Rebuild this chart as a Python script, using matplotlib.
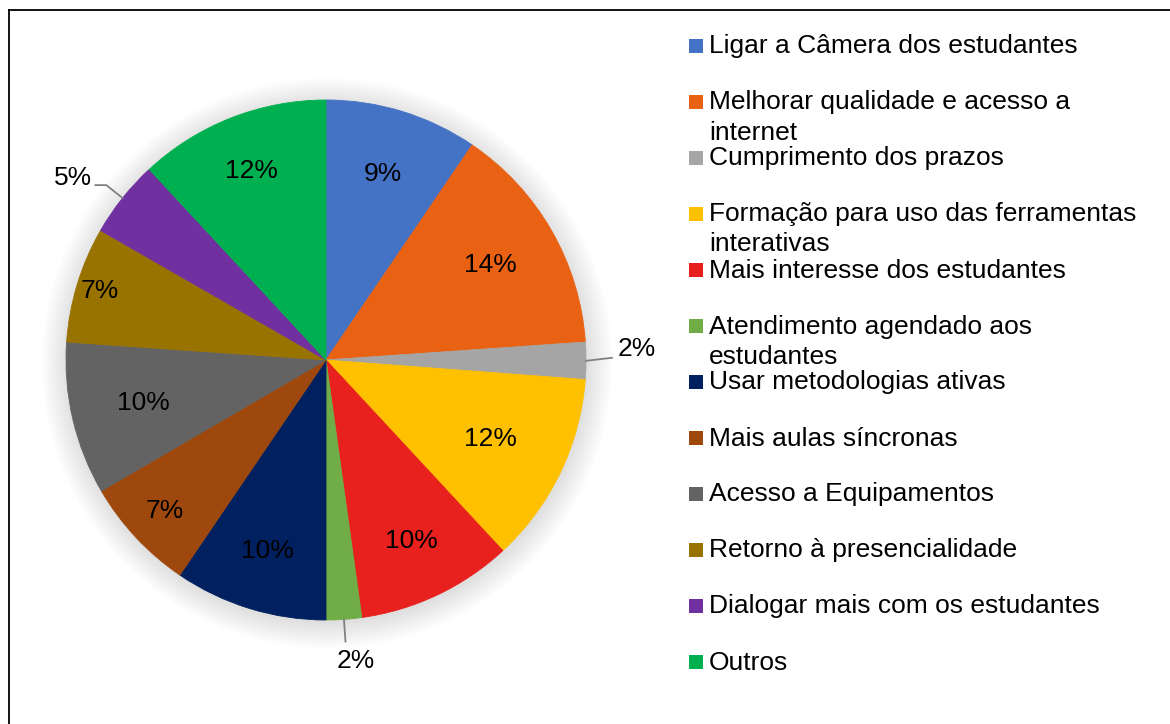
import matplotlib.pyplot as plt
from matplotlib.patches import Circle, Rectangle
from matplotlib.lines import Line2D
import numpy as np

plt.rcParams['font.family'] = ['Liberation Sans', 'DejaVu Sans']

#data
labels = ["Ligar a Câmera dos estudantes",
          "Melhorar qualidade e acesso a\ninternet",
          "Cumprimento dos prazos",
          "Formação para uso das ferramentas\ninterativas",
          "Mais interesse dos estudantes",
          "Atendimento agendado aos\nestudantes",
          "Usar metodologias ativas",
          "Mais aulas síncronas",
          "Acesso a Equipamentos",
          "Retorno à presencialidade",
          "Dialogar mais com os estudantes",
          "Outros"]
#slice shares
shares = [9.5, 14.4, 2.3, 11.9, 9.7, 2.2, 9.5, 7.1, 9.5, 7.2, 4.8, 11.9]
#percent labels as printed on the chart
pct_text = ["9%", "14%", "2%", "12%", "10%", "2%", "10%", "7%", "10%", "7%", "5%", "12%"]
colors = ["#4472C4", "#E96214", "#A5A5A5", "#FFC000", "#E8201E", "#70AD47",
          "#002060", "#9E480E", "#636363", "#997300", "#7030A0", "#00B050"]
#distance of the percent label from centre (radius units), None = outside with leader
label_dist = [0.75, 0.73, None, 0.70, 0.77, None, 0.77, 0.85, 0.72, 0.91, None, 0.78]

W, H = 1170, 724
fig = plt.figure(figsize=(W/100, H/100), dpi=100)

#frame (only top and left visible)
fig.add_artist(Line2D([9/W, 9/W], [0, 1 - 10/H], color='black', lw=1.3, transform=fig.transFigure))
fig.add_artist(Line2D([9/W, 1], [1 - 10/H, 1 - 10/H], color='black', lw=1.3, transform=fig.transFigure))

#pie axes, centre (326,360) px, radius 260 px
half = 300
ax = fig.add_axes([(326 - half)/W, (H - 360 - half)/H, 2*half/W, 2*half/H])
lim = half/260

#soft glow shadow
for k in range(16):
    ax.add_patch(Circle((0.004, -0.012), 1.0 + 0.0065*k, color='black', alpha=0.009, lw=0, zorder=0))

wedges, _ = ax.pie(shares, colors=colors, startangle=90, counterclock=False, radius=1,
                   wedgeprops=dict(linewidth=0.6), frame=False)
for w, c in zip(wedges, colors):
    w.set_edgecolor(c)
    w.set_zorder(2)
ax.set_xlim(-lim, lim)
ax.set_ylim(-lim, lim)
ax.set_aspect('equal')
ax.axis('off')

fs = 19
lc = '#808080'
for i, w in enumerate(wedges):
    ang = np.deg2rad((w.theta1 + w.theta2)/2)
    d = np.array([np.cos(ang), np.sin(ang)])
    txt = pct_text[i]
    if label_dist[i] is not None:
        p = d*label_dist[i]
        ax.text(p[0], p[1], txt, ha='center', va='center', fontsize=fs, zorder=5)
    elif d[0] > 0.5:
        p0, p1 = d*1.0, d*1.1
        ax.plot([p0[0], p1[0]], [p0[1], p1[1] + 0.012], color=lc, lw=1.3, zorder=4)
        ax.text(p1[0] + 0.02, p1[1] + 0.045, txt, ha='left', va='center', fontsize=fs)
    elif d[1] < -0.5:
        p0, p1 = d*1.0, d*1.085
        ax.plot([p0[0], p1[0]], [p0[1], p1[1]], color=lc, lw=1.3, zorder=4)
        ax.text(p1[0] + 0.04, p1[1] - 0.075, txt, ha='center', va='center', fontsize=fs)
    else:
        p0, p1 = d*1.0, d*1.08
        ax.plot([p0[0], p1[0], p1[0] - 0.042], [p0[1], p1[1], p1[1]], color=lc, lw=1.3, zorder=4)
        ax.text(p1[0] - 0.055, p1[1] + 0.027, txt, ha='right', va='center', fontsize=fs)

#legend
row_h = 56
for i, (lab, c) in enumerate(zip(labels, colors)):
    top = 39 + row_h*i
    fig.add_artist(Rectangle((689/W, 1 - (top + 14)/H), 14/W, 14/H, color=c,
                             transform=fig.transFigure, lw=0))
    for j, line in enumerate(lab.split("\n")):
        base = top + 14.5 + 30*j
        fig.text(709/W, 1 - base/H, line, ha='left', va='baseline', fontsize=fs)

fig.savefig("out.png", dpi=100)
